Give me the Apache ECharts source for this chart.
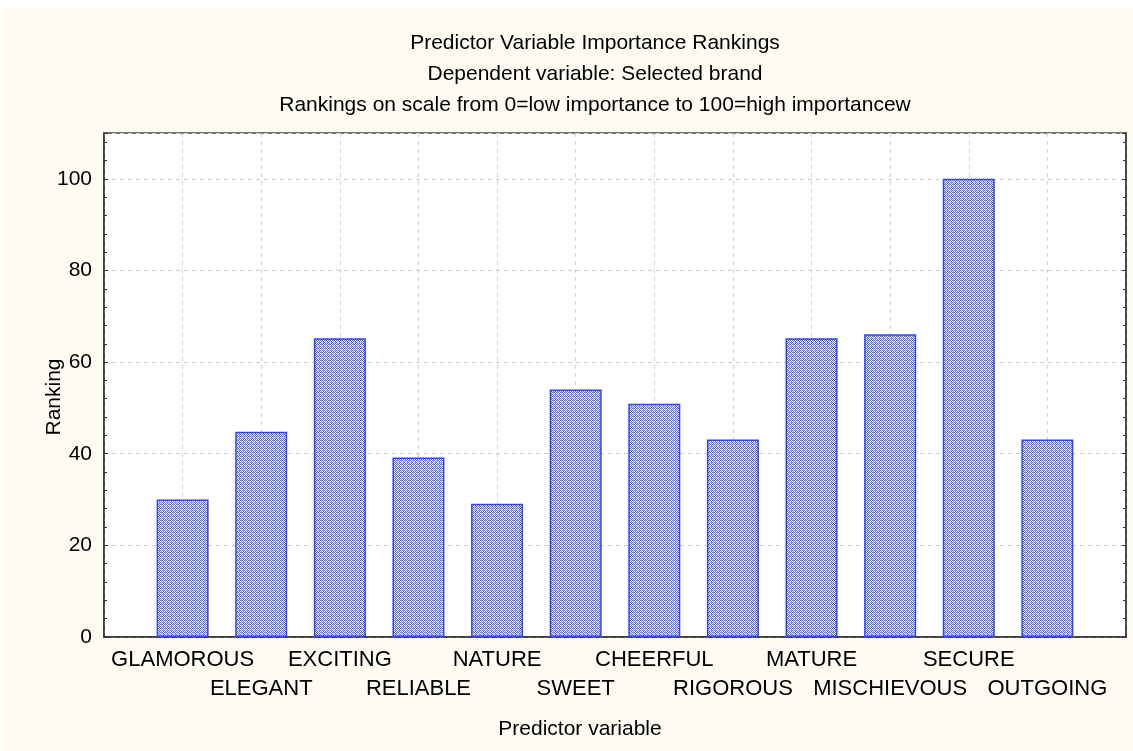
<!DOCTYPE html>
<html>
<head>
<meta charset="utf-8">
<script src="https://cdn.jsdelivr.net/npm/echarts@6/dist/echarts.min.js"></script>
<style>html,body{margin:0;padding:0;background:#fff;}#c{width:1133px;height:751px;}</style>
</head>
<body>
<div id="c"></div>
<script>
const categories = ['GLAMOROUS','ELEGANT','EXCITING','RELIABLE','NATURE','SWEET','CHEERFUL','RIGOROUS','MATURE','MISCHIEVOUS','SECURE','OUTGOING'];
const rankings = [30.0, 44.8, 65.2, 39.2, 29.1, 54.0, 50.9, 43.1, 65.2, 66.1, 100.0, 43.1];
const titleLines = ['Predictor Variable Importance Rankings','Dependent variable: Selected brand','Rankings on scale from 0=low importance to 100=high importancew'];
const yTicks = [0, 20, 40, 60, 80, 100];

const FONT = '"Liberation Sans", Arial, sans-serif';

// dither pattern fill
const pc = document.createElement('canvas');
pc.width = 4; pc.height = 4;
const pctx = pc.getContext('2d');
pctx.fillStyle = '#ffffff'; pctx.fillRect(0,0,4,4);
const pix = [[0,0,'#4a5ef6'],[2,0,'#4a5ef6'],[1,1,'#7d8cf8'],[3,1,'#4a5ef6'],[0,2,'#4a5ef6'],[2,2,'#7d8cf8'],[1,3,'#4a5ef6'],[3,3,'#4a5ef6'],[1,0,'#b8c0fb'],[3,2,'#b8c0fb']];
pix.forEach(p => { pctx.fillStyle = p[2]; pctx.fillRect(p[0], p[1], 1, 1); });

const chart = echarts.init(document.getElementById('c'), null, {renderer: 'canvas'});
const data = rankings.map((v, i) => [i + 1, v]);

const titles = titleLines.map((t, i) => ({
  text: t, left: 590, top: 28 + i * 31, textAlign: 'center',
  textStyle: {fontFamily: FONT, fontSize: 21, fontWeight: 'normal', color: '#000'}
}));

chart.setOption({
  backgroundColor: '#ffffff',
  animation: false,
  title: titles,
  graphic: [
    {type: 'rect', z: -10, silent: true, shape: {x: 3, y: 7, width: 1130, height: 744}, style: {fill: '#fdfbf2'}},
    {type: 'text', z: 10, x: 54, y: 397, rotation: Math.PI / 2,
      style: {text: 'Ranking', font: '21px ' + FONT, fill: '#000', textAlign: 'center', textVerticalAlign: 'middle'}},
    {type: 'text', z: 10, x: 580, y: 729,
      style: {text: 'Predictor variable', font: '21px ' + FONT, fill: '#000', textAlign: 'center', textVerticalAlign: 'middle'}}
  ],
  grid: {left: 104, right: 7, top: 133, bottom: 114, show: true, backgroundColor: '#ffffff', borderColor: '#444', borderWidth: 1.5},
  xAxis: {
    type: 'value', min: 0, max: 13, interval: 1,
    axisLine: {show: true, lineStyle: {color: '#333', width: 1.5}},
    axisTick: {show: false},
    splitLine: {show: true, lineStyle: {color: '#cfcfcf', type: [4, 4], width: 1}},
    axisLabel: {
      margin: 9, fontFamily: FONT, fontSize: 22, color: '#000', lineHeight: 28.5,
      formatter: function (v) {
        const i = Math.round(v) - 1;
        if (i < 0 || i >= categories.length) return '';
        return (i % 2 === 0) ? categories[i] : '\n' + categories[i];
      }
    }
  },
  yAxis: [{
    type: 'value', min: 0, max: 110, interval: 20,
    axisLine: {show: true, lineStyle: {color: '#333', width: 1.5}},
    axisTick: {show: true, inside: true, length: 4, lineStyle: {color: '#333'}},
    minorTick: {show: true, splitNumber: 5, length: 3, lineStyle: {color: '#333'}},
    splitLine: {show: true, lineStyle: {color: '#cfcfcf', type: [4, 4], width: 1}},
    axisLabel: {margin: 12, fontFamily: FONT, fontSize: 21, color: '#000',
      formatter: function (v) { return yTicks.indexOf(v) >= 0 ? String(v) : ''; }}
  }, {
    type: 'value', min: 0, max: 110, interval: 20, position: 'right',
    axisLine: {show: true, lineStyle: {color: '#333', width: 1.5}},
    axisTick: {show: true, inside: true, length: 4, lineStyle: {color: '#333'}},
    minorTick: {show: true, splitNumber: 5, length: 3, lineStyle: {color: '#333'}},
    splitLine: {show: false},
    axisLabel: {show: false}
  }],
  series: [{
    type: 'bar', data: data, barWidth: 52, yAxisIndex: 0,
    itemStyle: {color: {image: pc, repeat: 'repeat'}, borderColor: '#2f45f5', borderWidth: 1.5}
  }]
});
</script>
</body>
</html>
